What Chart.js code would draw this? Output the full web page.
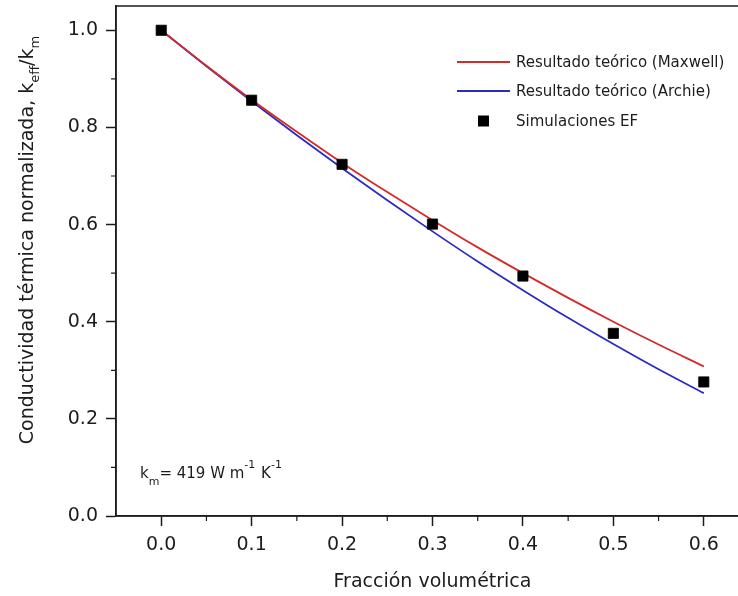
<!DOCTYPE html>
<html>
<head>
<meta charset="utf-8">
<script src="https://cdn.jsdelivr.net/npm/chart.js@4/dist/chart.umd.min.js"></script>
<style>
  html, body { margin: 0; padding: 0; background: #fff; overflow: hidden; }
  #wrap { width: 750px; height: 596px; }
</style>
</head>
<body>
<div id="wrap"><canvas id="c" width="750" height="596"></canvas></div>
<script>
// ---- data ----
const fracCurve = [0, 0.05, 0.1, 0.15, 0.2, 0.25, 0.3, 0.35, 0.4, 0.45, 0.5, 0.55, 0.6];
const maxwell   = [1.000, 0.927, 0.857, 0.791, 0.727, 0.667, 0.609, 0.553, 0.500, 0.449, 0.400, 0.353, 0.308];
const archie    = [1.000, 0.926, 0.854, 0.784, 0.716, 0.650, 0.586, 0.524, 0.465, 0.408, 0.354, 0.302, 0.253];
const fracSim   = [0, 0.1, 0.2, 0.3, 0.4, 0.5, 0.6];
const simEF     = [1.000, 0.856, 0.724, 0.601, 0.494, 0.376, 0.276];

const xMajorTicks = [0, 0.1, 0.2, 0.3, 0.4, 0.5, 0.6];
const xMinorTicks = [0.05, 0.15, 0.25, 0.35, 0.45, 0.55];
const yMajorTicks = [0, 0.2, 0.4, 0.6, 0.8, 1.0];
const yMinorTicks = [0.1, 0.3, 0.5, 0.7, 0.9];

const seriesLabels = ['Resultado teórico (Maxwell)', 'Resultado teórico (Archie)', 'Simulaciones EF'];
const xTitle = 'Fracción volumétrica';
const yTitleParts = [
  ['Conductividad térmica normalizada, k', 'n'],
  ['eff', 'sub'],
  ['/k', 'n'],
  ['m', 'sub']
];
const noteParts = [
  ['k', 'n'], ['m', 'sub'], ['= 419 W m', 'n'], ['-1', 'sup'], [' K', 'n'], ['-1', 'sup']
];

const FONT = 'DejaVu Sans';
const INK = '#1c1c1c';
const RED = '#d42a2a';
const BLUE = '#2b2bc4';

const pts = (xs, ys) => xs.map((x, i) => ({ x: x, y: ys[i] }));

function measureRich(ctx, parts, size, subSize) {
  let total = 0;
  parts.forEach(([t, k]) => {
    ctx.font = (k === 'n' ? size : subSize) + 'px "' + FONT + '"';
    total += ctx.measureText(t).width;
  });
  return total;
}

const decorPlugin = {
  id: 'decor',
  afterDraw(chart) {
    const { ctx, chartArea: a, scales } = chart;
    const xs = scales.x, ys = scales.y;
    ctx.save();
    // frame
    ctx.strokeStyle = INK;
    ctx.lineWidth = 1.5;
    ctx.strokeRect(a.left, a.top, a.right - a.left, a.bottom - a.top);
    // minor ticks
    ctx.lineWidth = 1.2;
    ctx.beginPath();
    xMinorTicks.forEach(v => {
      const px = xs.getPixelForValue(v);
      ctx.moveTo(px, a.bottom);
      ctx.lineTo(px, a.bottom + 5);
    });
    yMinorTicks.forEach(v => {
      const py = ys.getPixelForValue(v);
      ctx.moveTo(a.left, py);
      ctx.lineTo(a.left - 5, py);
    });
    ctx.stroke();

    // legend
    const ds = chart.data.datasets;
    const rows = [62, 91, 121];
    ctx.textBaseline = 'middle';
    ctx.textAlign = 'left';
    ctx.font = '15px "' + FONT + '"';
    ds.forEach((d) => {
      const y = rows[d.legendRow];
      if (d.showLine) {
        ctx.strokeStyle = d.borderColor;
        ctx.lineWidth = d.borderWidth;
        ctx.beginPath();
        ctx.moveTo(457, y);
        ctx.lineTo(510, y);
        ctx.stroke();
      } else {
        ctx.fillStyle = d.backgroundColor;
        ctx.fillRect(478, y - 5.5, 11, 11);
      }
      ctx.fillStyle = INK;
      ctx.fillText(d.label, 516, y + 1);
    });

    // y-axis title (rotated, with subscripts)
    ctx.save();
    ctx.translate(33, 240);
    ctx.rotate(-Math.PI / 2);
    ctx.textBaseline = 'alphabetic';
    ctx.fillStyle = INK;
    const tw = measureRich(ctx, yTitleParts, 19, 13);
    let cx = -tw / 2;
    yTitleParts.forEach(([t, k]) => {
      ctx.font = (k === 'n' ? 19 : 13) + 'px "' + FONT + '"';
      ctx.fillText(t, cx, k === 'sub' ? 6 : 0);
      cx += ctx.measureText(t).width;
    });
    ctx.restore();

    // annotation
    ctx.textBaseline = 'alphabetic';
    ctx.fillStyle = INK;
    let nx = 140;
    const nb = 478;
    noteParts.forEach(([t, k]) => {
      ctx.font = (k === 'n' ? 15 : 11) + 'px "' + FONT + '"';
      const dy = k === 'sub' ? 7 : (k === 'sup' ? -10 : 0);
      ctx.fillText(t, nx, nb + dy);
      nx += ctx.measureText(t).width + (k === 'sup' ? 1 : 0);
    });
    ctx.restore();
  }
};

new Chart(document.getElementById('c'), {
  type: 'scatter',
  data: {
    datasets: [
      {
        label: seriesLabels[2], legendRow: 2,
        data: pts(fracSim, simEF),
        showLine: false, pointStyle: 'rect', pointRadius: 7.2,
        backgroundColor: '#000', borderColor: '#000', borderWidth: 0.8, order: 0
      },
      {
        label: seriesLabels[0], legendRow: 0,
        data: pts(fracCurve, maxwell),
        showLine: true, pointRadius: 0, borderColor: RED, backgroundColor: RED,
        borderWidth: 1.8, cubicInterpolationMode: 'monotone', order: 1
      },
      {
        label: seriesLabels[1], legendRow: 1,
        data: pts(fracCurve, archie),
        showLine: true, pointRadius: 0, borderColor: BLUE, backgroundColor: BLUE,
        borderWidth: 1.8, cubicInterpolationMode: 'monotone', order: 2
      }
    ]
  },
  options: {
    responsive: false,
    animation: false,
    devicePixelRatio: 1,
    layout: { autoPadding: false, padding: { top: 6, right: 1, left: 0, bottom: 0 } },
    plugins: { legend: { display: false }, tooltip: { enabled: false } },
    scales: {
      x: {
        type: 'linear', min: -0.05, max: 0.65,
        afterFit(s) { s.height = 80; s.paddingLeft = 0; s.paddingRight = 0; },
        afterBuildTicks(s) { s.ticks = xMajorTicks.map(v => ({ value: v })); },
        grid: { drawOnChartArea: false, drawTicks: true, tickLength: 10, tickColor: INK, tickWidth: 1.5 },
        border: { display: true, color: INK, width: 1.5 },
        ticks: { padding: 8, color: INK, font: { family: FONT, size: 19 }, maxRotation: 0,
                 callback: v => Number(v).toFixed(1) },
        title: { display: true, text: xTitle, color: INK, font: { family: FONT, size: 19 },
                 padding: { top: 0, bottom: 3 } }
      },
      y: {
        type: 'linear', min: 0, max: 1.05,
        afterFit(s) { s.width = 116; s.paddingTop = 0; s.paddingBottom = 0; },
        afterBuildTicks(s) { s.ticks = yMajorTicks.map(v => ({ value: v })); },
        grid: { drawOnChartArea: false, drawTicks: true, tickLength: 10, tickColor: INK, tickWidth: 1.5 },
        border: { display: true, color: INK, width: 1.5 },
        ticks: { padding: 8, color: INK, font: { family: FONT, size: 19 },
                 callback: v => Number(v).toFixed(1) }
      }
    }
  },
  plugins: [decorPlugin]
});
</script>
</body>
</html>
